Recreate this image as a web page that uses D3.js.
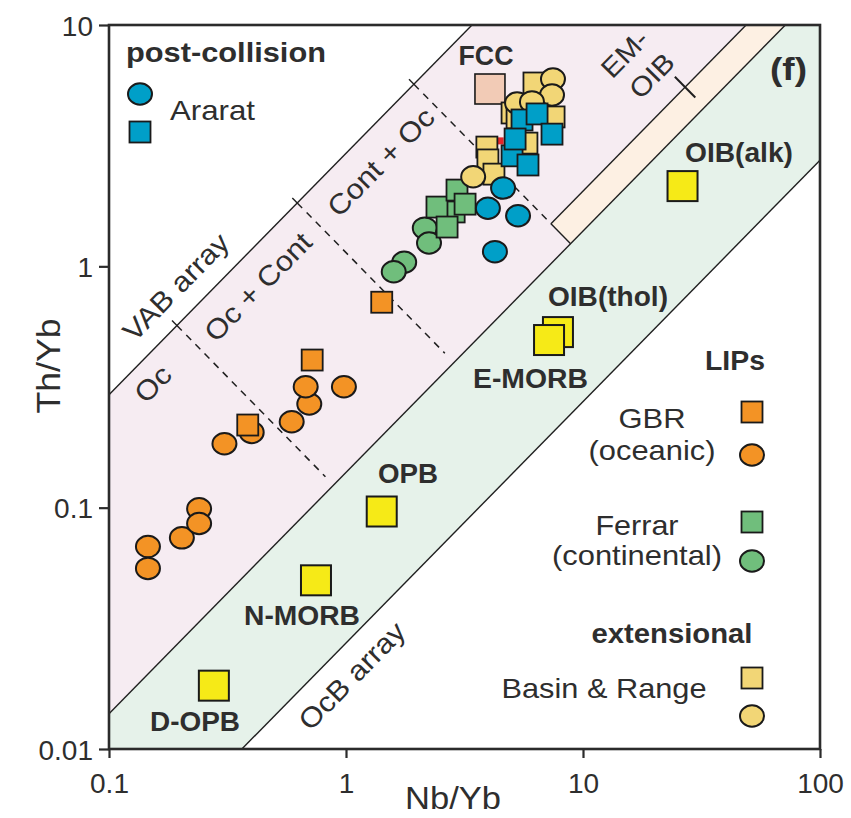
<!DOCTYPE html>
<html><head><meta charset="utf-8">
<script src="https://cdn.jsdelivr.net/npm/d3@7"></script>
<style>
html,body{margin:0;padding:0;background:#fff;}
svg text{font-family:"Liberation Sans",Arial,Helvetica,sans-serif;fill:#2e2e2e;}
</style></head><body>
<svg id="chart" width="851" height="818"></svg>
<script>
// Th/Yb vs Nb/Yb discrimination diagram (log-log)
const xTicks = [0.1, 1, 10, 100];
const yTicks = [0.01, 0.1, 1, 10];
const xTickLabels = ["0.1", "1", "10", "100"];
const yTickLabels = ["0.01", "0.1", "1", "10"];

// field boundaries, as constant Th/Nb ratios (lines of slope 1)
const vabUpperRatio = 2.94;
const emoibUpperRatio = 0.205;
const morbUpperRatio = 0.14;
const morbLowerRatio = 0.0275;
// crustal-input dividers: constant (Th/Yb)*(Nb/Yb)
const dividerProducts = [0.11, 1.14, 11];
const dividerEndRatios = [0.164, 0.167, 0.205];
const emoibTickProduct = 149;

// reference compositions
const refNames = ["FCC", "OIB(alk)", "OIB(thol)", "E-MORB", "OPB", "N-MORB", "D-OPB"];
const refNb = [4.05, 26.3, 7.84, 7.19, 1.415, 0.747, 0.277];
const refTh = [5.43, 2.15, 0.534, 0.495, 0.0964, 0.050, 0.0183];

// GBR (oceanic LIP)
const gbrCircleNb = [0.146, 0.146, 0.203, 0.240, 0.240, 0.307, 0.400, 0.59, 0.70, 0.676, 0.98];
const gbrCircleTh = [0.069, 0.056, 0.075, 0.099, 0.086, 0.184, 0.205, 0.227, 0.269, 0.317, 0.317];
const gbrSquareNb = [0.385, 0.72, 1.415];
const gbrSquareTh = [0.22, 0.409, 0.71];

// Ferrar (continental LIP)
const ferrarCircleNb = [2.15, 2.24, 1.76, 1.59];
const ferrarCircleTh = [1.44, 1.25, 1.04, 0.95];
const ferrarSquareNb = [2.86, 2.42, 2.94, 3.18, 2.67];
const ferrarSquareTh = [1.68, 1.76, 2.07, 1.81, 1.455];

// Basin & Range (extensional)
const brSquareNb = [5.02, 5.27, 6.21, 7.55, 3.93, 3.97, 4.21, 5.80];
const brSquareTh = [4.32, 4.12, 5.75, 4.16, 3.12, 2.76, 2.41, 3.24];
const brCircleNb = [7.47, 7.40, 5.27, 6.09, 3.44];
const brCircleTh = [5.97, 5.13, 4.75, 4.80, 2.35];

// Ararat (post-collision)
const araratSquareNb = [5.53, 5.02, 6.40, 7.40, 5.17, 5.86];
const araratSquareTh = [4.04, 2.87, 4.28, 3.53, 3.37, 2.63];
const araratCircleNb = [4.60, 3.97, 5.32, 4.25];
const araratCircleTh = [2.11, 1.74, 1.62, 1.15];

// other sample, mostly hidden
const otherNb = [4.47];
const otherTh = [3.31];

const colors = {
  gbr: "#f39325", ferrar: "#70be7c", br: "#f2d676", ararat: "#009fc8",
  ref: "#f6ea17", fcc: "#f2cbb6", other: "#e3262b",
  pink: "#f6ecf2", green: "#e6f2ea", cream: "#fdf0e3"
};

const svg = d3.select("#chart");
const x = d3.scaleLog().domain([0.1, 100]).range([109, 820]);
const y = d3.scaleLog().domain([0.01, 10]).range([749, 25]);
const P = (a, b) => [x(a), y(b)];
const onRatio = (r, p) => [Math.sqrt(p / r), Math.sqrt(p * r)];
const angle = -Math.atan((y(1) - y(10)) / (x(10) - x(1))) * 180 / Math.PI;

svg.append("defs").append("clipPath").attr("id", "plotClip")
  .append("rect").attr("x", x(0.1)).attr("y", y(10))
  .attr("width", x(100) - x(0.1)).attr("height", y(0.01) - y(10));

const fields = svg.append("g").attr("clip-path", "url(#plotClip)");
const poly = pts => "M" + pts.map(d => P(d[0], d[1]).join(",")).join("L") + "Z";
const lo = 0.001, hi = 1000;

// VAB array field
fields.append("path").attr("fill", colors.pink)
  .attr("d", poly([[lo, lo * vabUpperRatio], [hi, hi * vabUpperRatio], [hi, hi * morbUpperRatio], [lo, lo * morbUpperRatio]]));
// MORB-OIB array field
fields.append("path").attr("fill", colors.green)
  .attr("d", poly([[lo, lo * morbUpperRatio], [hi, hi * morbUpperRatio], [hi, hi * morbLowerRatio], [lo, lo * morbLowerRatio]]));
// EM-OIB band
const cA = onRatio(emoibUpperRatio, dividerProducts[2]);
const cB = onRatio(morbUpperRatio, dividerProducts[2]);
fields.append("path").attr("fill", colors.cream)
  .attr("d", poly([cA, [hi, hi * emoibUpperRatio], [hi, hi * morbUpperRatio], cB]));

const line = (pts) => "M" + pts.map(d => P(d[0], d[1]).join(",")).join("L");
const bnd = fields.append("g").attr("fill", "none").attr("stroke", "#1f1f1f").attr("stroke-width", 1.4);
[vabUpperRatio, morbUpperRatio, morbLowerRatio].forEach(r => {
  bnd.append("path").attr("d", line([[lo, lo * r], [hi, hi * r]]));
});
bnd.append("path").attr("d", line([cA, [hi, hi * emoibUpperRatio]]));
bnd.append("path").attr("d", line([cA, cB]));

// dividers with ticks on the upper boundary
dividerProducts.forEach((p, i) => {
  bnd.append("path").attr("stroke-width", 1.4)
    .attr("d", line([onRatio(vabUpperRatio * 1.1, p), onRatio(vabUpperRatio / 1.1, p)]));
  bnd.append("path").attr("stroke-dasharray", "7,6").attr("stroke-width", 1.5)
    .attr("d", line([onRatio(vabUpperRatio / 1.2, p), onRatio(dividerEndRatios[i], p)]));
});
bnd.append("path").attr("stroke-width", 2)
  .attr("d", line([onRatio(emoibUpperRatio * 1.22, emoibTickProduct), onRatio(emoibUpperRatio / 1.22, emoibTickProduct)]));

// frame
svg.append("rect").attr("x", x(0.1)).attr("y", y(10))
  .attr("width", x(100) - x(0.1)).attr("height", y(0.01) - y(10))
  .attr("fill", "none").attr("stroke", "#2b2b2b").attr("stroke-width", 2.6);

// axes
const xAxis = svg.append("g").attr("transform", `translate(0,${y(0.01)})`)
  .call(d3.axisBottom(x).tickValues(xTicks).tickFormat((d, i) => xTickLabels[i]).tickSize(9).tickSizeOuter(0));
xAxis.select(".domain").remove();
xAxis.selectAll(".tick line").attr("stroke", "#2b2b2b").attr("stroke-width", 2.2);
xAxis.selectAll(".tick text").attr("y", 44).attr("dy", 0).style("font-size", "28px")
  .style("font-family", '"Liberation Sans",Arial,sans-serif').attr("fill", "#333");

const yAxis = svg.append("g").attr("transform", `translate(${x(0.1)},0)`)
  .call(d3.axisLeft(y).tickValues(yTicks).tickFormat((d, i) => yTickLabels[i]).tickSize(10).tickSizeOuter(0));
yAxis.select(".domain").remove();
yAxis.selectAll(".tick line").attr("stroke", "#2b2b2b").attr("stroke-width", 2.2);
yAxis.selectAll(".tick text").attr("x", -16).attr("dy", "0.36em").style("font-size", "28px")
  .style("font-family", '"Liberation Sans",Arial,sans-serif').attr("fill", "#333");

// markers
const marks = svg.append("g");
function circles(nb, th, fill) {
  marks.append("g").selectAll("ellipse").data(nb.map((d, i) => [d, th[i]])).join("ellipse")
    .attr("cx", d => x(d[0])).attr("cy", d => y(d[1])).attr("rx", 12).attr("ry", 10.7)
    .attr("fill", fill).attr("stroke", "#1a1a1a").attr("stroke-width", 2);
}
function squares(nb, th, fill, size, sw) {
  marks.append("g").selectAll("rect").data(nb.map((d, i) => [d, th[i]])).join("rect")
    .attr("x", d => x(d[0]) - size / 2).attr("y", d => y(d[1]) - size / 2)
    .attr("width", size).attr("height", size)
    .attr("fill", fill).attr("stroke", "#1a1a1a").attr("stroke-width", sw);
}
// reference compositions
refNames.forEach((n, i) => {
  squares([refNb[i]], [refTh[i]], n === "FCC" ? colors.fcc : colors.ref, 30, n === "FCC" ? 1.6 : 2);
});
circles(gbrCircleNb, gbrCircleTh, colors.gbr);
squares(gbrSquareNb, gbrSquareTh, colors.gbr, 21, 1.8);
circles(ferrarCircleNb, ferrarCircleTh, colors.ferrar);
squares(ferrarSquareNb, ferrarSquareTh, colors.ferrar, 21, 1.8);
squares(otherNb, otherTh, colors.other, 7, 0);
squares(brSquareNb, brSquareTh, colors.br, 21, 1.8);
circles(brCircleNb, brCircleTh, colors.br);
squares(araratSquareNb, araratSquareTh, colors.ararat, 21, 1.8);
circles(araratCircleNb, araratCircleTh, colors.ararat);

// text helpers
function label(t, px, py, size, bold, len, anchor) {
  const el = svg.append("text").attr("x", px).attr("y", py).text(t)
    .style("font-size", size + "px").style("font-weight", bold ? "bold" : "normal")
    .attr("text-anchor", anchor || "start");
  if (len) el.attr("textLength", len).attr("lengthAdjust", "spacingAndGlyphs");
  return el;
}
function slanted(t, px, py, size) {
  const el = svg.append("text").attr("x", px).attr("y", py).text(t)
    .style("font-size", size + "px").attr("text-anchor", "middle")
    .attr("dominant-baseline", "central").attr("fill", "#222")
    .attr("transform", `rotate(${angle},${px},${py})`);
  const w = el.node().getComputedTextLength();
  el.attr("textLength", w * 1.1).attr("lengthAdjust", "spacingAndGlyphs");
}

// field names
slanted("VAB array", 176, 287, 28);
slanted("Oc", 153, 384, 28);
slanted("Oc + Cont", 258, 287, 28);
slanted("Cont + Oc", 381, 162, 28);
slanted("OcB array", 352, 676, 28);
slanted("EM-", 625, 54, 27);
slanted("OIB", 652, 76, 27);

// reference labels
label("FCC", 486, 65, 27, true, 55, "middle");
label("OIB(alk)", 685, 162, 27, true, 108);
label("OIB(thol)", 548, 306, 27, true, 120);
label("E-MORB", 473, 388, 27, true, 115);
label("OPB", 378, 483, 27, true, 60);
label("N-MORB", 244, 625, 27, true, 116);
label("D-OPB", 150, 731, 27, true, 90);
label("(f)", 770, 80, 31, true, 37);

// legend
label("post-collision", 126, 62, 27, true, 200);
label("Ararat", 170, 120, 28, false, 85);
label("LIPs", 705, 370, 27, true, 60);
label("GBR", 652, 428, 28, false, 67, "middle");
label("(oceanic)", 652, 460, 28, false, 127, "middle");
label("Ferrar", 637, 535, 28, false, 83, "middle");
label("(continental)", 637, 565, 28, false, 170, "middle");
label("extensional", 672, 643, 27, true, 161, "middle");
label("Basin & Range", 604, 698, 28, false, 205, "middle");

const legendItems = [
  [140, 94, "c", colors.ararat], [140, 132, "s", colors.ararat],
  [752, 412, "s", colors.gbr], [752, 455, "c", colors.gbr],
  [752, 522, "s", colors.ferrar], [752, 561, "c", colors.ferrar],
  [752, 678, "s", colors.br], [752, 716, "c", colors.br]
];
legendItems.forEach(([lx, ly, k, c]) => {
  if (k === "c") svg.append("ellipse").attr("cx", lx).attr("cy", ly).attr("rx", 12).attr("ry", 10.7)
    .attr("fill", c).attr("stroke", "#1a1a1a").attr("stroke-width", 2);
  else svg.append("rect").attr("x", lx - 10.5).attr("y", ly - 10.5).attr("width", 21).attr("height", 21)
    .attr("fill", c).attr("stroke", "#1a1a1a").attr("stroke-width", 1.8);
});

// axis titles
label("Nb/Yb", 453, 809, 32, false, 96, "middle").attr("fill", "#333");
label("Th/Yb", 60, 366, 33, false, 95, "middle").attr("fill", "#333")
  .attr("transform", "rotate(-90,60,366)");
</script>
</body></html>
